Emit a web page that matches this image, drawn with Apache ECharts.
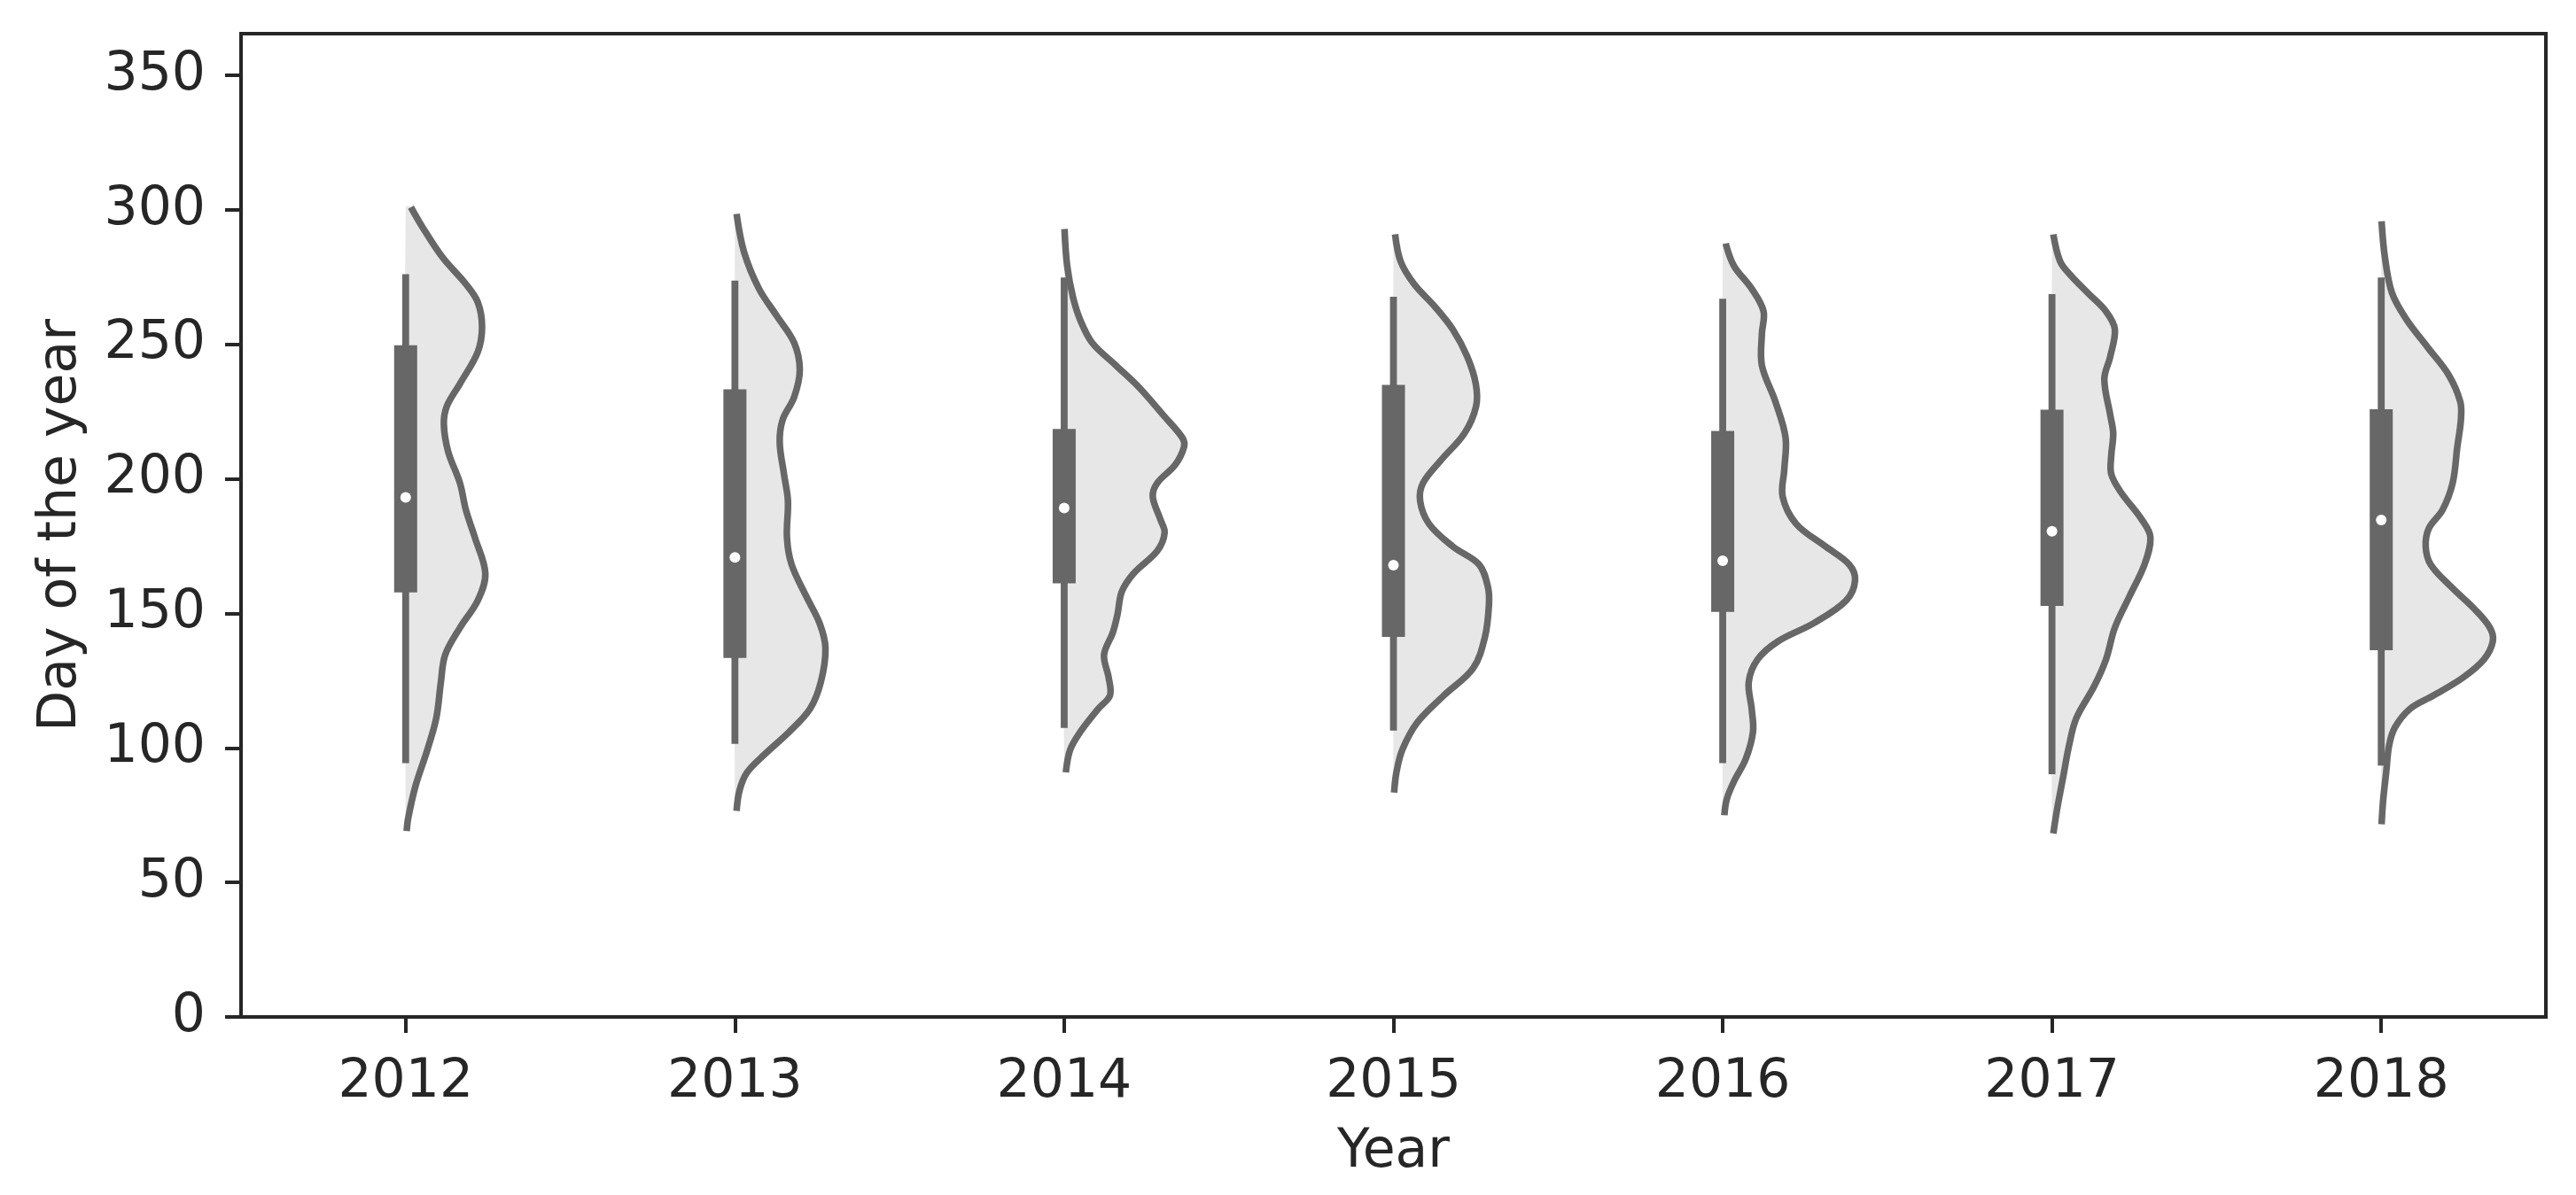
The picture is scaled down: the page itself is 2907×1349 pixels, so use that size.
<!DOCTYPE html>
<html>
<head>
<meta charset="utf-8">
<script src="https://cdn.jsdelivr.net/npm/echarts@6/dist/echarts.min.js"></script>
<style>
html,body{margin:0;padding:0;background:#ffffff;}
#chart{width:2907px;height:1349px;}
</style>
</head>
<body>
<div id="chart"></div>
<script>
// ---------- data ----------
const years = ['2012', '2013', '2014', '2015', '2016', '2017', '2018'];
const yTicks = [0, 50, 100, 150, 200, 250, 300, 350];

// half-violin outlines: [day of year, half-width as fraction of category spacing], top to bottom
const violin2012 = [[301,0.016],[294,0.049],[282.5,0.111],[272.4,0.183],[265.7,0.219],[256.5,0.232],[247.2,0.219],[235.4,0.165],[227,0.125],[220.3,0.116],[210.2,0.129],[198.4,0.165],[188.4,0.183],[178.3,0.210],[164.9,0.242],[154.8,0.219],[144.7,0.165],[134.6,0.120],[124.5,0.107],[111.1,0.093],[99.3,0.066],[85.9,0.030],[74.1,0.008],[69.1,0.003]];
const violin2013 = [[298.5,0.005],[284.2,0.028],[270.7,0.073],[260.6,0.127],[250.6,0.180],[240.5,0.197],[230.4,0.180],[222,0.145],[213.6,0.136],[201.8,0.149],[191.8,0.161],[178.3,0.158],[168.2,0.172],[156.5,0.216],[146.4,0.257],[137.1,0.275],[124.5,0.261],[114.5,0.228],[106,0.165],[97.7,0.091],[90.9,0.037],[84.2,0.014],[76.6,0.005]];
const violin2014 = [[292.9,0.001],[279.2,0.009],[267.4,0.027],[259,0.049],[250.6,0.085],[242.2,0.157],[233.8,0.229],[223.7,0.301],[215.3,0.359],[211.9,0.364],[205.2,0.337],[198.5,0.283],[193.4,0.269],[185,0.292],[180,0.305],[173.3,0.283],[164.9,0.211],[158.1,0.175],[149.7,0.162],[143,0.148],[134.6,0.121],[126.2,0.135],[119.5,0.139],[114.5,0.103],[106,0.049],[99.3,0.018],[90.9,0.005]];
const violin2015 = [[290.9,0.005],[280.8,0.022],[272.4,0.063],[264,0.126],[255.6,0.180],[245.5,0.224],[235.4,0.250],[227,0.251],[217,0.216],[206.9,0.144],[198.5,0.090],[191.8,0.081],[183.3,0.108],[174.9,0.180],[168.2,0.260],[159.8,0.287],[153.1,0.290],[141.3,0.278],[129.6,0.242],[119.5,0.153],[109.4,0.072],[99.3,0.027],[90.9,0.009],[83.4,0.002]];
const violin2016 = [[287.5,0.009],[279.2,0.034],[270.7,0.088],[262.3,0.124],[253.9,0.119],[242.2,0.119],[228.7,0.160],[215.3,0.191],[203.5,0.187],[193.4,0.182],[183.3,0.223],[174.9,0.312],[168.2,0.384],[162.3,0.402],[154.8,0.375],[146.4,0.277],[139.7,0.169],[132.9,0.106],[124.5,0.079],[114.5,0.088],[106,0.092],[95.9,0.070],[87.5,0.034],[80.8,0.012],[75,0.005]];
const violin2017 = [[290.9,0.004],[280.8,0.025],[275.8,0.056],[269,0.110],[262.3,0.164],[255.6,0.191],[245.5,0.177],[237.1,0.159],[223.7,0.177],[217,0.186],[208.6,0.180],[201.8,0.180],[195.1,0.209],[185,0.272],[178.3,0.299],[168.2,0.281],[156.5,0.236],[144.7,0.191],[132.9,0.164],[122.9,0.128],[111.1,0.074],[101,0.052],[89.2,0.034],[77.5,0.016],[68.2,0.004]];
const violin2018 = [[295.8,0.001],[282.5,0.011],[269,0.033],[259,0.078],[248.9,0.141],[238.8,0.204],[228.7,0.240],[222,0.242],[211.9,0.231],[198.5,0.217],[188.4,0.186],[181.7,0.145],[174.9,0.135],[168.2,0.150],[159.8,0.213],[151.4,0.285],[144.7,0.330],[139.7,0.339],[132.9,0.312],[126.2,0.249],[119.5,0.159],[114.5,0.087],[107.7,0.042],[101,0.024],[90.9,0.015],[80.8,0.006],[71.6,0.001]];

// inner box statistics per year
const whiskerHigh = [276.1, 273.7, 274.9, 267.7, 267.0, 268.7, 274.9];
const boxQ3       = [249.7, 233.3, 218.6, 234.9, 217.8, 225.7, 225.9];
const medians     = [193.1, 170.8, 189.2, 167.9, 169.6, 180.5, 184.7];
const boxQ1       = [157.8, 133.4, 161.2, 141.3, 150.6, 152.8, 136.3];
const whiskerLow  = [94.3, 101.5, 107.4, 106.4, 94.3, 90.2, 93.4];

const violins = [violin2012, violin2013, violin2014, violin2015, violin2016, violin2017, violin2018];

// ---------- chart ----------
const FONT = 'DejaVu Sans';
const INK = '#262626';
const GRAY = '#676767';
const FILL = '#e7e7e7';

const chart = echarts.init(document.getElementById('chart'), null, {renderer: 'canvas'});

function renderViolin(params, api) {
  const i = params.dataIndex;
  const cx = api.coord([i, 0])[0];
  const band = api.size([1, 0])[0];
  const yOf = v => api.coord([i, v])[1];
  const prof = violins[i];
  const curve = prof.map(p => [cx + p[1] * band, yOf(p[0])]);
  const poly = curve.slice();
  poly.push([cx, yOf(prof[prof.length - 1][0])]);
  poly.push([cx, yOf(prof[0][0])]);
  const yWH = yOf(whiskerHigh[i]), yWL = yOf(whiskerLow[i]);
  const yQ3 = yOf(boxQ3[i]), yQ1 = yOf(boxQ1[i]);
  const yMed = yOf(medians[i]);
  return {
    type: 'group',
    children: [
      {type: 'polygon', z2: 1, shape: {points: poly, smooth: 0.35}, style: {fill: FILL, stroke: null}},
      {type: 'polyline', z2: 2, shape: {points: curve, smooth: 0.35}, style: {fill: null, stroke: GRAY, lineWidth: 7.5, lineCap: 'butt', lineJoin: 'round'}},
      {type: 'rect', z2: 3, shape: {x: cx - 3.9, y: yWH, width: 7.8, height: yWL - yWH}, style: {fill: GRAY}},
      {type: 'rect', z2: 4, shape: {x: cx - 13, y: yQ3, width: 26, height: yQ1 - yQ3}, style: {fill: GRAY}},
      {type: 'circle', z2: 5, shape: {cx: cx, cy: yMed, r: 6}, style: {fill: '#ffffff'}}
    ]
  };
}

const option = {
  animation: false,
  backgroundColor: '#ffffff',
  grid: {left: 272, right: 34, top: 38, bottom: 201, show: true, borderColor: INK, borderWidth: 4, backgroundColor: 'transparent'},
  xAxis: {
    type: 'category',
    data: years,
    name: 'Year',
    nameLocation: 'middle',
    nameGap: 123,
    nameTextStyle: {fontFamily: FONT, fontSize: 60, color: INK},
    axisLine: {show: true, lineStyle: {color: INK, width: 4}},
    axisTick: {show: true, alignWithLabel: true, length: 18, lineStyle: {color: INK, width: 4}},
    axisLabel: {fontFamily: FONT, fontSize: 60, color: INK, margin: 44},
    splitLine: {show: false}
  },
  yAxis: {
    type: 'value',
    min: 0,
    max: 365.5,
    interval: 50,
    name: 'Day of the year',
    nameLocation: 'middle',
    nameRotate: 90,
    nameGap: 173,
    nameTextStyle: {fontFamily: FONT, fontSize: 60, color: INK},
    axisLine: {show: true, lineStyle: {color: INK, width: 4}},
    axisTick: {show: true, length: 18, customValues: yTicks, lineStyle: {color: INK, width: 4}},
    axisLabel: {fontFamily: FONT, fontSize: 60, color: INK, margin: 40, customValues: yTicks},
    splitLine: {show: false}
  },
  series: [{
    type: 'custom',
    renderItem: renderViolin,
    encode: {x: 0, y: 1},
    data: years.map((y, i) => [i, medians[i]]),
    clip: false
  }]
};
chart.setOption(option);
</script>
</body>
</html>
